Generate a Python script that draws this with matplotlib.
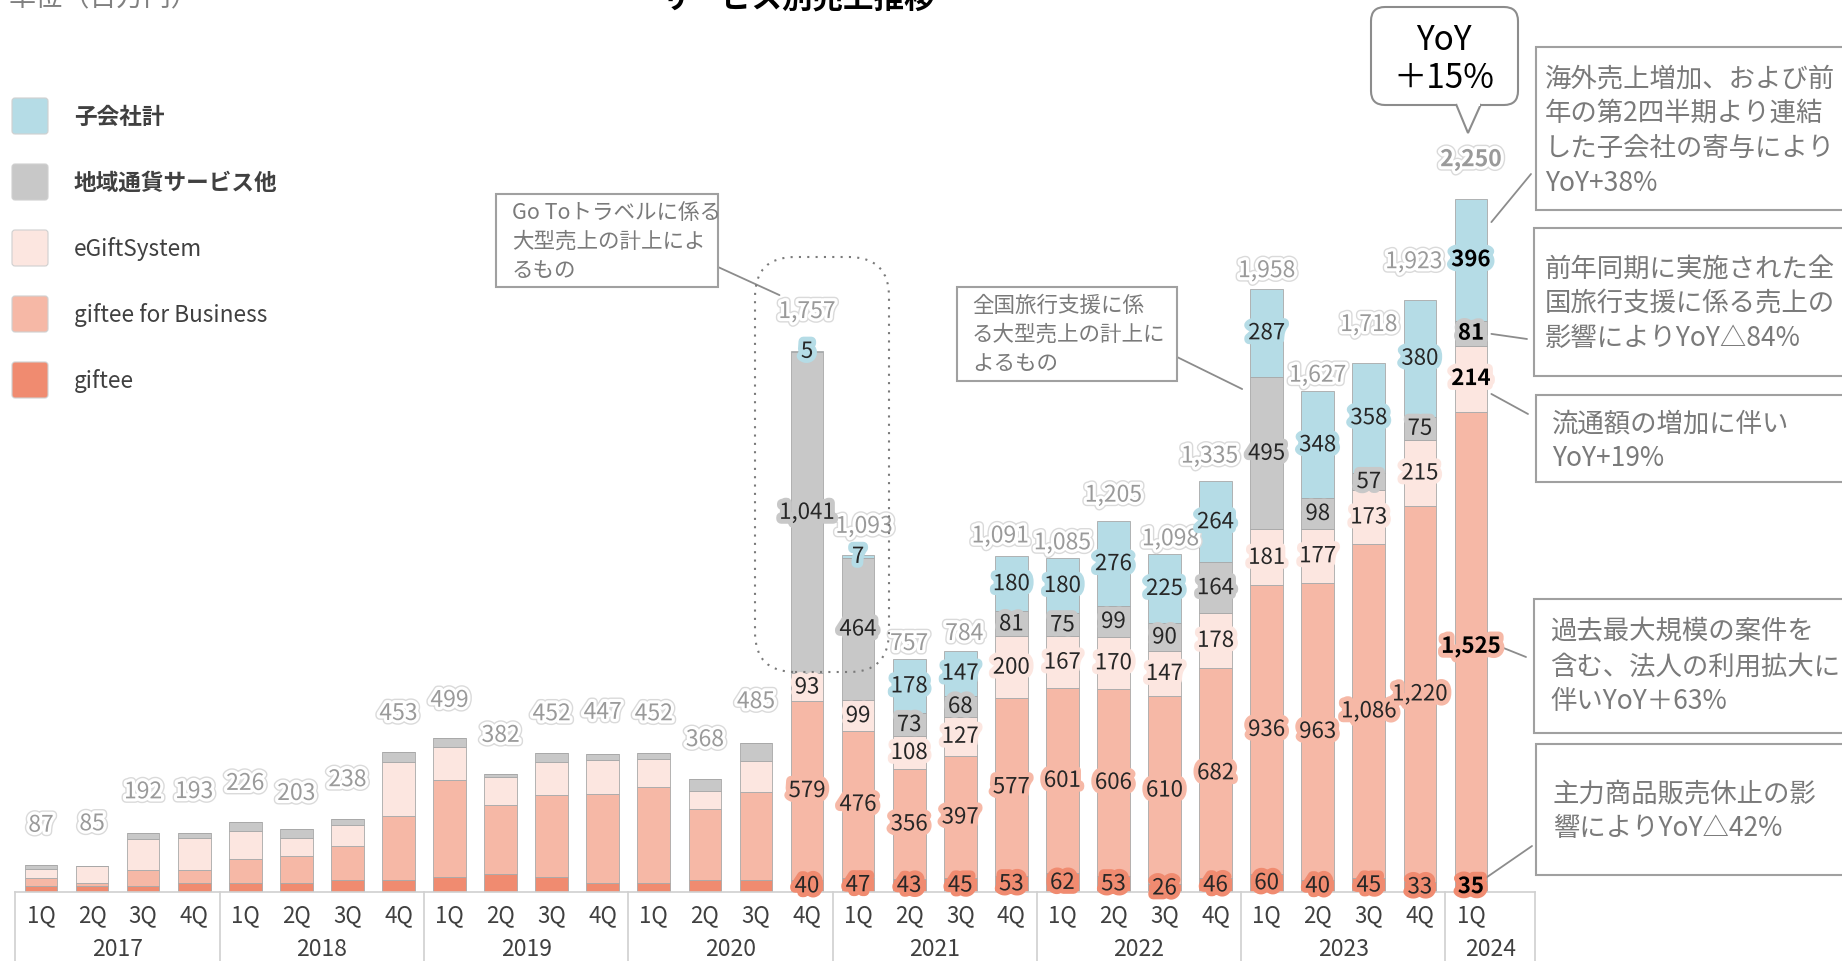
import matplotlib
matplotlib.use("Agg")
import matplotlib.pyplot as plt
import matplotlib.patheffects as pe
from matplotlib.patches import FancyBboxPatch, Rectangle, Polygon
from matplotlib.transforms import IdentityTransform
import numpy as np

plt.rcParams['font.family'] = ['Noto Sans CJK JP', 'DejaVu Sans']

# データ（単位：百万円）
quarters = ['1Q', '2Q', '3Q', '4Q'] * 7 + ['1Q']
years = ['2017', '2018', '2019', '2020', '2021', '2022', '2023', '2024']
giftee = [19, 20, 20, 30, 29, 28, 39, 39, 49, 60, 49, 30, 29, 40, 39,
          40, 47, 43, 45, 53, 62, 53, 26, 46, 60, 40, 45, 33, 35]
gift_biz = [28, 10, 50, 40, 79, 88, 110, 207, 315, 224, 265, 287, 313, 228, 286,
            579, 476, 356, 397, 577, 601, 606, 610, 682, 936, 963, 1086, 1220, 1525]
egift = [29, 53, 103, 104, 90, 58, 69, 177, 106, 88, 109, 110, 90, 61, 100,
         93, 99, 108, 127, 200, 167, 170, 147, 178, 181, 177, 173, 215, 214]
local = [11, 2, 19, 19, 28, 29, 20, 30, 29, 10, 29, 20, 20, 39, 60,
         1041, 464, 73, 68, 81, 75, 99, 90, 164, 495, 98, 57, 75, 81]
subs = [0] * 15 + [5, 7, 178, 147, 180, 180, 276, 225, 264, 287, 348, 358, 380, 396]
totals = [87, 85, 192, 193, 226, 203, 238, 453, 499, 382, 452, 447, 452, 368, 485,
          1757, 1093, 757, 784, 1091, 1085, 1205, 1098, 1335, 1958, 1627, 1718, 1923, 2250]

# 合計ラベルの位置ずれ（px）
total_dy = [40, 42, 41, 41, 39, 36, 39, 39, 38, 39, 39, 42, 39, 39, 41,
            39, 29, 15, 17, 20, 15, 26, 15, 25, 18, 16, 38, 38, 39]
total_dx = [0] * 16 + [6, 0, 4, -11, 0, 0, 6, -6, 0, 0, 0, -6, 0]

colors = {
    'giftee': '#f08b70',
    'biz': '#f6b8a6',
    'egift': '#fce6e0',
    'local': '#c8c8c8',
    'subs': '#b5dce6',
}

W, H = 1842, 962
PX_PER_UNIT = 0.308
BASE = 893          # 基準線の y（上からの px）
STEP = 51.07        # バー間隔（px）
X0 = 41             # 最初のバー中心（px）

fig = plt.figure(figsize=(W / 100, H / 100), dpi=100)
ax = fig.add_axes([(X0 - STEP / 2) / W, (H - BASE) / H, 29 * STEP / W, BASE / H])
ax.set_xlim(-0.5, 28.5)
ax.set_ylim(0, BASE / PX_PER_UNIT)
for s in ax.spines.values():
    s.set_visible(False)
ax.set_yticks([])

x = np.arange(len(totals))
bottom = np.zeros(len(x))
series = [(giftee, colors['giftee']), (gift_biz, colors['biz']), (egift, colors['egift']),
          (local, colors['local']), (subs, colors['subs'])]
for vals, col in series:
    vals = np.array(vals)
    ax.bar(x, vals, 0.64, bottom=bottom, color=col, edgecolor='#a8a8a8', linewidth=0.6, zorder=2)
    for i in range(15, len(x)):
        v = vals[i]
        if v <= 0:
            continue
        last = i == len(x) - 1
        ax.text(i, bottom[i] + v / 2, f'{v:,}', ha='center', va='center',
                fontsize=16, color='black' if last else '#262626',
                fontweight='bold' if last else 'normal', zorder=5,
                path_effects=[pe.withStroke(linewidth=7, foreground=col)])
    bottom += vals

for i, t in enumerate(totals):
    last = i == len(x) - 1
    ax.annotate(f'{t:,}', (i, bottom[i]), xytext=(total_dx[i], total_dy[i]),
                textcoords='offset pixels', ha='center', va='center',
                fontsize=16.5, color='#9a9a9a', fontweight='bold' if last else 'normal',
                zorder=4,
                path_effects=[pe.Stroke(linewidth=6.5, foreground='#dadada'),
                              pe.Stroke(linewidth=4.5, foreground='white'), pe.Normal()])

# x軸（四半期・年）
ax.set_xticks(x, quarters)
ax.tick_params(axis='x', length=0, pad=8, labelsize=16, labelcolor='#404040')
bounds = [-0.5, 3.5, 7.5, 11.5, 15.5, 19.5, 23.5, 27.5, 29.26]
ax.plot([bounds[0], bounds[-1]], [0, 0], color='#d0d0d0', lw=1.2, clip_on=False, zorder=3)
for b in bounds:
    ax.plot([b, b], [0, -240], color='#d0d0d0', lw=1.2, clip_on=False)
for k, yr in enumerate(years):
    c = (bounds[k] + bounds[k + 1]) / 2
    ax.text(c, -185, yr, ha='center', va='center', fontsize=16.5, color='#404040')

idt = IdentityTransform()


def fx(px):
    return px / W


def fy(py):
    return 1 - py / H


# タイトル・単位（元画像でも上端で切れている）
fig.text(fx(797), fy(-1), 'サービス別売上推移', ha='center', va='center',
         fontsize=22, fontweight='bold', color='black')
fig.text(fx(9), fy(-2), '単位（百万円）', ha='left', va='center', fontsize=19.5, color='#808080')

# 凡例
legend_items = [('子会社計', colors['subs'], 'bold'),
                ('地域通貨サービス他', colors['local'], 'bold'),
                ('eGiftSystem', colors['egift'], 'normal'),
                ('giftee for Business', colors['biz'], 'normal'),
                ('giftee', colors['giftee'], 'normal')]
for k, (name, col, wt) in enumerate(legend_items):
    yc = 117 + 66 * k
    fig.add_artist(FancyBboxPatch((12, H - yc - 18), 36, 36,
                                  boxstyle='round,pad=0,rounding_size=3',
                                  fc=col, ec='#d0d0d0', lw=0.8, transform=idt))
    fig.text(fx(74), fy(yc), name, ha='left', va='center', fontsize=16.3,
             color='#404040', fontweight=wt)

box_kw = dict(fill=True, fc='white', ec='#a0a0a0', lw=1.5, transform=idt)
line_kw = dict(arrowstyle='-', color='#8c8c8c', lw=1.3, shrinkA=0, shrinkB=0)


def note(x0, y0, x1, y1, tx, ty, text, fs, ls):
    fig.add_artist(Rectangle((x0, H - y1), x1 - x0, y1 - y0, **box_kw))
    fig.text(fx(tx), fy(ty), text, ha='left', va='center', fontsize=fs,
             color='#7a7a7a', linespacing=ls)


def leader(px, py, dx, dy):
    ax.annotate('', xy=(dx, dy), xycoords='data', xytext=(px, H - py),
                textcoords='figure pixels', arrowprops=line_kw)


# Go To トラベル
fig.add_artist(FancyBboxPatch((755, H - 673), 134, 415,
                              boxstyle='round,pad=0,rounding_size=40', fill=False,
                              ec='#7a7a7a', lw=1.5, ls=(0, (1, 3)), transform=idt))
note(496, 195, 718, 288, 512, 242, 'Go Toトラベルに係る\n大型売上の計上によ\nるもの', 15.5, 1.42)
leader(718, 268, 14.46, 1938)

# 全国旅行支援
note(957, 288, 1177, 382, 972, 335, '全国旅行支援に係\nる大型売上の計上に\nよるもの', 15.5, 1.42)
leader(1177, 358, 23.52, 1633)

# 右側の注記
note(1536, 48, 1850, 211, 1545, 131,
     '海外売上増加、および前\n年の第2四半期より連結\nした子会社の寄与により\nYoY+38%', 19, 1.38)
note(1534, 229, 1850, 377, 1545, 304,
     '前年同期に実施された全\n国旅行支援に係る売上の\n影響によりYoY△84%', 19, 1.38)
note(1536, 396, 1850, 483, 1552, 441, '流通額の増加に伴い\nYoY+19%', 19, 1.38)
note(1534, 600, 1850, 734, 1550, 667,
     '過去最大規模の案件を\n含む、法人の利用拡大に\n伴いYoY＋63%', 19, 1.38)
note(1536, 745, 1850, 876, 1553, 811, '主力商品販売休止の影\n響によりYoY△42%', 19, 1.38)
leader(1531, 175, 28.4, 2175)
leader(1527, 340, 28.4, 1812)
leader(1528, 415, 28.4, 1617)
leader(1526, 658, 28.4, 808)
leader(1532, 847, 28.24, 40)

# 吹き出し YoY
fig.add_artist(FancyBboxPatch((1371, H - 106), 147, 98,
                              boxstyle='round,pad=0,rounding_size=14',
                              fc='white', ec='#8c8c8c', lw=1.5, transform=idt))
fig.add_artist(Polygon([(1456, H - 105), (1468, H - 134), (1481, H - 105)], closed=False,
                       fc='white', ec='#8c8c8c', lw=1.5, transform=idt))
fig.add_artist(Rectangle((1457.5, H - 107), 22, 3, fc='white', ec='none', transform=idt))
fig.text(fx(1444), fy(41), 'YoY', ha='center', va='center', fontsize=24, color='black')
fig.text(fx(1444), fy(78), '＋15%', ha='center', va='center', fontsize=24, color='black')

fig.savefig('out.png', dpi=100)
